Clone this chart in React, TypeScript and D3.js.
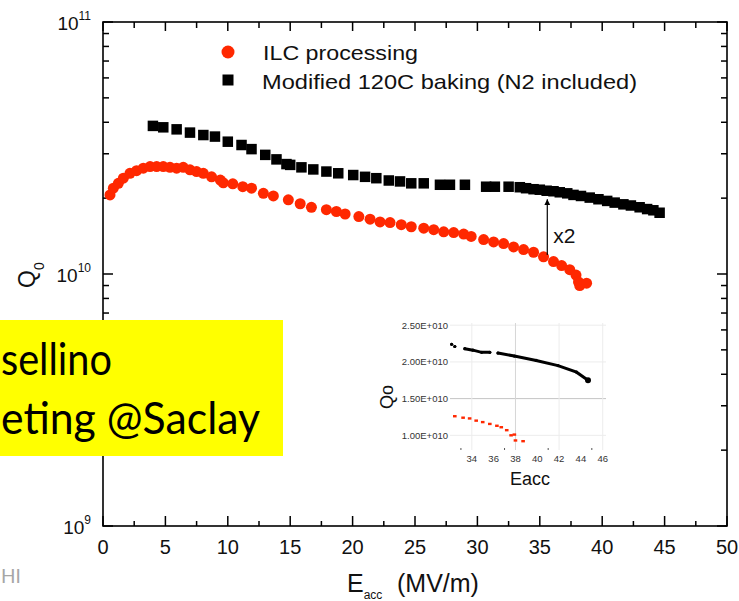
import React from "react";
import * as d3 from "d3";

// ---------- main chart data (Q in units of 1e10) ----------
const ilcE = [0.56,0.83,1.23,1.63,2.16,2.69,3.23,3.77,4.3,4.83,5.37,5.9,6.43,6.97,7.5,8.04,8.7,9.4,9.64,10.4,11.2,11.9,12.85,13.65,14.85,15.8,16.7,17.9,18.7,19.4,20.5,21.4,22.2,23.0,23.9,24.7,25.7,26.5,27.3,28.1,28.9,29.5,30.5,31.3,32.1,32.9,33.7,34.5,35.3,36.1,36.75,37.4,37.9,38.1,38.2,38.75];
const ilcQ = [2.06,2.19,2.29,2.40,2.51,2.57,2.63,2.67,2.67,2.67,2.65,2.63,2.65,2.59,2.55,2.51,2.43,2.36,2.30,2.28,2.22,2.19,2.09,2.04,1.97,1.90,1.84,1.80,1.77,1.73,1.69,1.65,1.61,1.60,1.57,1.54,1.52,1.50,1.47,1.46,1.44,1.41,1.37,1.34,1.32,1.28,1.25,1.22,1.17,1.12,1.08,1.04,0.99,0.93,0.90,0.92];

const bakedE = [4.0,4.83,5.9,6.97,8.04,8.97,10.0,11.1,11.9,13.0,13.9,14.7,15.0,15.9,16.85,17.9,18.85,20.05,21.0,21.9,22.9,23.8,24.7,25.7,27.0,27.8,29.0,30.7,31.4,32.5,33.4,33.9,34.5,35.0,35.55,36.1,36.6,37.2,37.7,38.3,39.0,39.7,40.4,41.0,41.7,42.3,43.0,43.6,44.1,44.6];
const bakedQ = [3.87,3.82,3.75,3.64,3.56,3.51,3.35,3.25,3.13,2.97,2.85,2.73,2.71,2.65,2.60,2.55,2.51,2.47,2.43,2.40,2.35,2.33,2.29,2.29,2.26,2.26,2.26,2.22,2.22,2.22,2.21,2.19,2.17,2.16,2.14,2.13,2.11,2.09,2.06,2.04,2.01,1.98,1.95,1.92,1.89,1.87,1.84,1.81,1.79,1.75];

const xMajorTicks = [0, 5, 10, 15, 20, 25, 30, 35, 40, 45, 50];
const xMinorTicks = [2.5, 7.5, 12.5, 17.5, 22.5, 27.5, 32.5, 37.5, 42.5, 47.5];
const yDecades = [9, 10, 11];
const yMinorMultipliers = [2, 3, 4, 5, 6, 7, 8, 9];

const legendLabels = ["ILC processing", "Modified 120C baking (N2 included)"];
const arrowE = 35.6;
const arrowFromQ = 1.19;
const arrowToQ = 1.98;
const arrowLabel = "x2";

// ---------- inset data ----------
const insetBakedE = [32.15,32.44,33.36,34.1,34.9,35.65,36.4,37.9,39.9,41.9,43.6,44.65];
const insetBakedQ = [2.24,2.21,2.18,2.16,2.13,2.13,2.12,2.08,2.02,1.95,1.86,1.75];
const insetBakedRun = [0,1,2,2,2,2,3,3,3,3,3,3];
const insetIlcE = [32.44,33.2,33.8,34.4,35.0,35.65,36.3,36.7,37.2,37.6,37.9,38.0,38.7];
const insetIlcQ = [1.26,1.24,1.23,1.20,1.18,1.155,1.13,1.11,1.07,1.00,1.01,0.93,0.92];
const insetXTicks = [34, 36, 38, 40, 42, 44, 46];
const insetXGrid = [34, 38, 42, 46];
const insetXMinor = [33, 37, 41, 45];
const insetYTicks = [1.0, 1.5, 2.0, 2.5];
const insetYLabels = ["1.00E+010", "1.50E+010", "2.00E+010", "2.50E+010"];

const FONT = "'Liberation Sans', Arial, Helvetica, sans-serif";
const RED = "#ff2800";

type P = { e: number; q: number };

export default function App() {
  const W = 739, H = 601;
  const x = d3.scaleLinear().domain([0, 50]).range([103, 727]);
  const y = d3.scaleLog().domain([1e9, 1e11]).range([526, 22]);

  const xi = d3.scaleLinear().domain([32, 46.3]).range([450, 606]);
  const yi = d3.scaleLinear().domain([0.8, 2.53]).range([450, 323]);

  const ilc = ilcE.map((e, i) => ({ e, q: ilcQ[i] * 1e10 }));
  const baked = bakedE.map((e, i) => ({ e, q: bakedQ[i] * 1e10 }));

  const insetBaked: P[] = insetBakedE.map((e, i) => ({ e, q: insetBakedQ[i] }));
  const insetIlc: P[] = insetIlcE.map((e, i) => ({ e, q: insetIlcQ[i] }));
  const insetLine = d3
    .line<P>()
    .x((d) => xi(d.e))
    .y((d) => yi(d.q));
  const runs = Array.from(new Set(insetBakedRun));
  const segments: P[][] = runs.map((r) => insetBaked.filter((_, i) => insetBakedRun[i] === r));

  const yMinor: number[] = [];
  yDecades.slice(0, -1).forEach((d) =>
    yMinorMultipliers.forEach((m) => yMinor.push(m * Math.pow(10, d)))
  );

  const x0 = x(0), x1 = x(50), y0 = y(1e9), y1 = y(1e11);
  const sq = 10.5;

  return (
    <svg
      width={W}
      height={H}
      style={{ position: "absolute", left: 0, top: 0, background: "#fff" }}
      fontFamily={FONT}
    >
      <defs>
        <marker id="arr" viewBox="0 0 10 10" refX="10" refY="5" markerWidth="6" markerHeight="8" orient="auto" markerUnits="userSpaceOnUse">
          <path d="M0,0 L10,5 L0,10 z" fill="#000" />
        </marker>
      </defs>
      <rect x={0} y={0} width={W} height={H} fill="#fff" />

      {/* frame */}
      <rect x={x0} y={y1} width={x1 - x0} height={y0 - y1} fill="none" stroke="#000" strokeWidth={1.6} />

      {/* x ticks bottom and top */}
      {xMajorTicks.map((t) => (
        <g key={"xm" + t}>
          <line x1={x(t)} x2={x(t)} y1={y0} y2={y0 - 10} stroke="#000" strokeWidth={1.5} />
          <line x1={x(t)} x2={x(t)} y1={y1} y2={y1 + 9} stroke="#000" strokeWidth={1.5} />
          <text x={x(t)} y={554} fontSize={20} textAnchor="middle" fill="#111">{t}</text>
        </g>
      ))}
      {xMinorTicks.map((t) => (
        <g key={"xn" + t}>
          <line x1={x(t)} x2={x(t)} y1={y0} y2={y0 - 5} stroke="#000" strokeWidth={1.5} />
          <line x1={x(t)} x2={x(t)} y1={y1} y2={y1 + 6} stroke="#000" strokeWidth={1.5} />
        </g>
      ))}

      {/* y ticks left and right */}
      {yDecades.map((d) => {
        const v = Math.pow(10, d);
        return (
          <g key={"yd" + d}>
            <line x1={x0} x2={x0 + 10} y1={y(v)} y2={y(v)} stroke="#000" strokeWidth={1.5} />
            <line x1={x1} x2={x1 - 10} y1={y(v)} y2={y(v)} stroke="#000" strokeWidth={1.5} />
            <text x={91} y={y(v) + 8} fontSize={19} textAnchor="end" fill="#111">
              10<tspan dy={-10} fontSize={12}>{d}</tspan>
            </text>
          </g>
        );
      })}
      {yMinor.map((v) => (
        <g key={"yn" + v}>
          <line x1={x0} x2={x0 + 6} y1={y(v)} y2={y(v)} stroke="#000" strokeWidth={1.5} />
          <line x1={x1} x2={x1 - 6} y1={y(v)} y2={y(v)} stroke="#000" strokeWidth={1.5} />
        </g>
      ))}

      {/* axis titles */}
      <text transform={`translate(35,288) rotate(-90)`} fontSize={23} fill="#111">
        Q<tspan dy={9} fontSize={14}>0</tspan>
      </text>
      <text x={347} y={592} fontSize={25} fill="#111">
        E<tspan dy={7} fontSize={12}>acc</tspan>
        <tspan x={397} dy={-7} fontSize={25}>(MV/m)</tspan>
      </text>

      {/* data */}
      {ilc.map((d, i) => (
        <circle key={"r" + i} cx={x(d.e)} cy={y(d.q)} r={5.5} fill={RED} />
      ))}
      {baked.map((d, i) => (
        <rect key={"b" + i} x={x(d.e) - sq / 2} y={y(d.q) - sq / 2} width={sq} height={sq} fill="#000" />
      ))}

      {/* arrow */}
      <line
        x1={x(arrowE)}
        x2={x(arrowE)}
        y1={y(arrowFromQ * 1e10)}
        y2={y(arrowToQ * 1e10)}
        stroke="#000"
        strokeWidth={1.2}
        markerEnd="url(#arr)"
      />
      <text x={x(arrowE) + 6} y={243} fontSize={21} fill="#111">{arrowLabel}</text>

      {/* legend */}
      <circle cx={228} cy={52} r={6.5} fill={RED} />
      <text x={263} y={59.5} fontSize={21} fill="#111" textLength={155} lengthAdjust="spacingAndGlyphs">{legendLabels[0]}</text>
      <rect x={228 - 5.5} y={80 - 5.5} width={11} height={11} fill="#000" />
      <text x={262} y={88.5} fontSize={21} fill="#111" textLength={375} lengthAdjust="spacingAndGlyphs">{legendLabels[1]}</text>

      {/* inset */}
      <g>
        {insetYTicks.map((t) => (
          <line key={"igh" + t} x1={xi(32)} x2={xi(46.3)} y1={yi(t)} y2={yi(t)} stroke={t === 1.5 ? "#c4c4c4" : "#ececec"} strokeWidth={1} />
        ))}
        {insetXGrid.map((t) => (
          <line key={"igv" + t} x1={xi(t)} x2={xi(t)} y1={yi(2.53)} y2={yi(0.8)} stroke={t === 38 ? "#d6d6d6" : "#ececec"} strokeWidth={1} />
        ))}
        {insetXMinor.map((t) => (
          <line key={"imt" + t} x1={xi(t)} x2={xi(t)} y1={yi(0.8)} y2={yi(0.8) - 2} stroke="#555" strokeWidth={1} />
        ))}
        {insetYTicks.map((t, i) => (
          <text key={"iyl" + t} x={448} y={yi(t) + 3.5} fontSize={9.5} textAnchor="end" fill="#333">{insetYLabels[i]}</text>
        ))}
        {insetXTicks.map((t) => (
          <text key={"ixl" + t} x={xi(t)} y={462} fontSize={9.5} textAnchor="middle" fill="#333">{t}</text>
        ))}
        {segments.map((s, i) => (
          <path key={"iseg" + i} d={insetLine(s) || ""} fill="none" stroke="#000" strokeWidth={3} strokeLinecap="round" />
        ))}
        {insetBaked.map((d, i) => (
          <circle key={"ib" + i} cx={xi(d.e)} cy={yi(d.q)} r={i === insetBaked.length - 1 ? 3 : 1.6} fill="#000" />
        ))}
        {insetIlc.map((d, i) => (
          <rect key={"ir" + i} x={xi(d.e) - 1.8} y={yi(d.q) - 1.2} width={3.6} height={2.4} fill={RED} />
        ))}
        <text x={530} y={485} fontSize={18} textAnchor="middle" fill="#111">Eacc</text>
        <text transform={`translate(393,397) rotate(-90)`} fontSize={18} textAnchor="middle" fill="#111">Qo</text>
      </g>

      {/* yellow overlay box */}
      <rect x={0} y={320} width={283} height={136} fill="#ffff00" />
      <text x={1} y={375} fontSize={44} fontFamily="Lato, 'Noto Sans', sans-serif" fill="#000" textLength={111} lengthAdjust="spacingAndGlyphs">sellino</text>
      <text x={1} y={434} fontSize={44} fontFamily="Lato, 'Noto Sans', sans-serif" fill="#000" textLength={259} lengthAdjust="spacingAndGlyphs">eting @Saclay</text>

      {/* footer text */}
      <text x={1} y={583} fontSize={19} fontFamily="Lato, 'Noto Sans', sans-serif" fill="#a6a6a6">HI</text>
    </svg>
  );
}
